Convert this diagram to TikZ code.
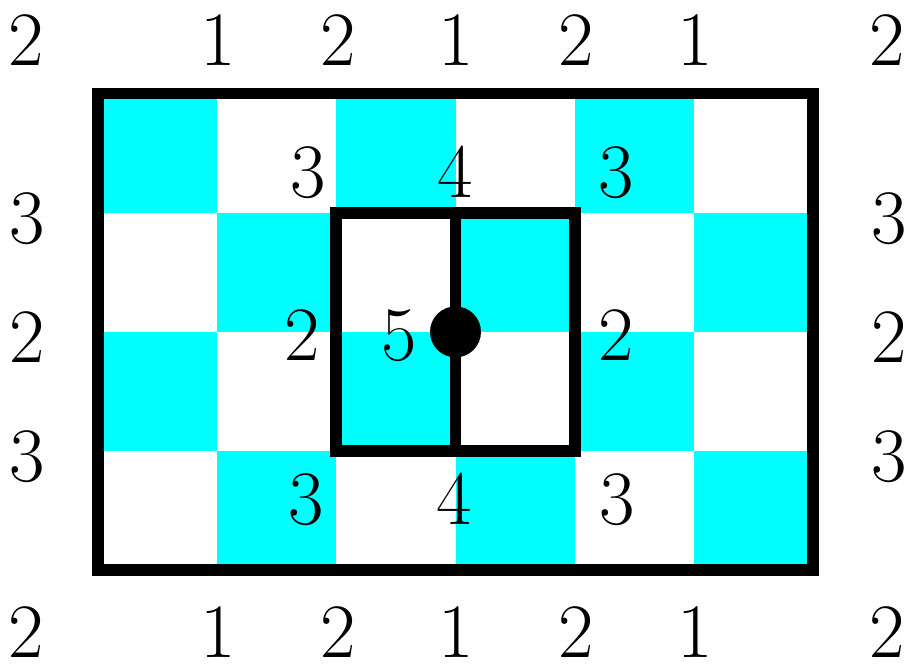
\documentclass[tikz,border=0pt]{standalone}
\definecolor{cellcyan}{RGB}{0,255,255}
\begin{document}
\begin{tikzpicture}[x=1pt,y=-1pt,
  lbl/.style={inner sep=0pt,anchor=base,font=\fontsize{77}{82}\selectfont},
  frame/.style={draw=black,line width=11.7pt,line cap=rect,line join=miter},
  cell/.style={fill=cellcyan}]
\useasboundingbox (0,0) rectangle (913,664);
\def\cw{119.17}
\def\ch{119.2}
% checkerboard fills
\foreach \r in {0,...,3}{
  \foreach \c in {0,...,5}{
    \pgfmathtruncatemacro{\myparity}{mod(\r+\c,2)}
    \ifnum\myparity=0
      \fill[cell] ({98+\c*\cw},{93.5+\r*\ch}) rectangle ({98+(\c+1)*\cw},{93.5+(\r+1)*\ch});
    \fi
  }
}
% frames
\draw[frame] (98,93.5) rectangle (813,570.3);
\draw[frame] (336.3,212.7) rectangle (574.7,451.1);
\draw[frame,line cap=butt] (455.5,212.7) -- (455.5,451.1);
\fill[black] (455.5,331.9) circle (25.5);
% top labels
\node[lbl] (t1) at (26.5,65) {2};
\node[lbl] (t2) at (218,65) {1};
\node[lbl] (t3) at (338,65) {2};
\node[lbl] (t4) at (456,65) {1};
\node[lbl] (t5) at (576,65) {2};
\node[lbl] (t6) at (695,65) {1};
\node[lbl] (t7) at (887,65) {2};
% bottom labels
\node[lbl] (b1) at (26.5,657) {2};
\node[lbl] (b2) at (218,657) {1};
\node[lbl] (b3) at (338,657) {2};
\node[lbl] (b4) at (456,657) {1};
\node[lbl] (b5) at (576,657) {2};
\node[lbl] (b6) at (695,657) {1};
\node[lbl] (b7) at (887,657) {2};
% left labels
\node[lbl] (l1) at (27,243) {3};
\node[lbl] (l2) at (27,362) {2};
\node[lbl] (l3) at (27,481) {3};
% right labels
\node[lbl] (r1) at (889,243) {3};
\node[lbl] (r2) at (889,362) {2};
\node[lbl] (r3) at (889,481) {3};
% inner labels
\node[lbl] (i1) at (308,197) {3};
\node[lbl] (i2) at (455,197) {4};
\node[lbl] (i3) at (616,197) {3};
\node[lbl] (i4) at (302,360) {2};
\node[lbl] (i5) at (399,360) {5};
\node[lbl] (i6) at (616.5,360) {2};
\node[lbl] (i7) at (306,524) {3};
\node[lbl] (i8) at (454,524) {4};
\node[lbl] (i9) at (617,524) {3};
\end{tikzpicture}
\end{document}
